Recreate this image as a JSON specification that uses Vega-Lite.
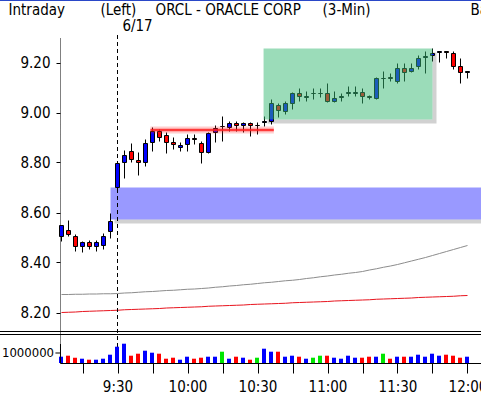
{
  "$schema": "https://vega.github.io/schema/vega-lite/v6.json",
  "width": 421,
  "height": 325,
  "autosize": "none",
  "padding": {"left": 60, "top": 38, "right": 0, "bottom": 36},
  "background": "white",
  "config": {
    "view": {"stroke": null},
    "font": "DejaVu Sans Condensed, Liberation Sans, sans-serif",
    "axis": {"labelFont": "DejaVu Sans Condensed, Liberation Sans, sans-serif", "labelFontSize": 15, "labelColor": "black", "tickColor": "black", "domainColor": "black", "grid": false},
    "text": {"font": "DejaVu Sans Condensed, Liberation Sans, sans-serif", "fontSize": 15, "color": "black"}
  },
  "datasets": {
    "bars": [
      {"m": -24, "o": 8.504, "h": 8.55, "l": 8.484, "c": 8.548, "v": 630000, "d": "up", "a": 8.272, "b": 8.200},
      {"m": -21, "o": 8.528, "h": 8.568, "l": 8.504, "c": 8.512, "v": 730000, "d": "down", "a": 8.272, "b": 8.201},
      {"m": -18, "o": 8.504, "h": 8.512, "l": 8.444, "c": 8.464, "v": 530000, "d": "down", "a": 8.273, "b": 8.202},
      {"m": -15, "o": 8.464, "h": 8.484, "l": 8.44, "c": 8.48, "v": 430000, "d": "up", "a": 8.273, "b": 8.204},
      {"m": -12, "o": 8.48, "h": 8.488, "l": 8.452, "c": 8.464, "v": 330000, "d": "down", "a": 8.274, "b": 8.205},
      {"m": -9, "o": 8.464, "h": 8.488, "l": 8.444, "c": 8.48, "v": 330000, "d": "up", "a": 8.274, "b": 8.206},
      {"m": -6, "o": 8.468, "h": 8.516, "l": 8.452, "c": 8.504, "v": 430000, "d": "up", "a": 8.275, "b": 8.207},
      {"m": -3, "o": 8.524, "h": 8.596, "l": 8.496, "c": 8.564, "v": 830000, "d": "up", "a": 8.275, "b": 8.208},
      {"m": 0, "o": 8.70, "h": 8.80, "l": 8.69, "c": 8.796, "v": 1630000, "d": "up", "a": 8.276, "b": 8.209},
      {"m": 3, "o": 8.80, "h": 8.848, "l": 8.736, "c": 8.828, "v": 1930000, "d": "up", "a": 8.278, "b": 8.211},
      {"m": 6, "o": 8.844, "h": 8.876, "l": 8.80, "c": 8.812, "v": 730000, "d": "down", "a": 8.279, "b": 8.212},
      {"m": 9, "o": 8.808, "h": 8.84, "l": 8.748, "c": 8.80, "v": 930000, "d": "down", "a": 8.281, "b": 8.213},
      {"m": 12, "o": 8.80, "h": 8.892, "l": 8.784, "c": 8.876, "v": 1230000, "d": "up", "a": 8.283, "b": 8.214},
      {"m": 15, "o": 8.88, "h": 8.94, "l": 8.844, "c": 8.924, "v": 1030000, "d": "up", "a": 8.284, "b": 8.215},
      {"m": 18, "o": 8.924, "h": 8.932, "l": 8.884, "c": 8.90, "v": 930000, "d": "down", "a": 8.286, "b": 8.216},
      {"m": 21, "o": 8.908, "h": 8.92, "l": 8.836, "c": 8.88, "v": 430000, "d": "down", "a": 8.288, "b": 8.218},
      {"m": 24, "o": 8.88, "h": 8.90, "l": 8.852, "c": 8.872, "v": 530000, "d": "down", "a": 8.289, "b": 8.219},
      {"m": 27, "o": 8.86, "h": 8.88, "l": 8.844, "c": 8.868, "v": 330000, "d": "up", "a": 8.291, "b": 8.220},
      {"m": 30, "o": 8.872, "h": 8.912, "l": 8.844, "c": 8.896, "v": 630000, "d": "up", "a": 8.293, "b": 8.221},
      {"m": 33, "o": 8.896, "h": 8.912, "l": 8.872, "c": 8.892, "v": 430000, "d": "down", "a": 8.294, "b": 8.222},
      {"m": 36, "o": 8.876, "h": 8.884, "l": 8.796, "c": 8.84, "v": 530000, "d": "down", "a": 8.296, "b": 8.223},
      {"m": 39, "o": 8.84, "h": 8.92, "l": 8.836, "c": 8.916, "v": 630000, "d": "up", "a": 8.298, "b": 8.225},
      {"m": 42, "o": 8.92, "h": 8.948, "l": 8.88, "c": 8.936, "v": 630000, "d": "up", "a": 8.301, "b": 8.226},
      {"m": 45, "o": 8.944, "h": 8.984, "l": 8.884, "c": 8.944, "v": 1130000, "d": "flat", "a": 8.303, "b": 8.227},
      {"m": 48, "o": 8.94, "h": 8.964, "l": 8.924, "c": 8.956, "v": 430000, "d": "up", "a": 8.306, "b": 8.228},
      {"m": 51, "o": 8.956, "h": 8.964, "l": 8.924, "c": 8.948, "v": 630000, "d": "down", "a": 8.308, "b": 8.229},
      {"m": 54, "o": 8.948, "h": 8.96, "l": 8.92, "c": 8.956, "v": 530000, "d": "up", "a": 8.311, "b": 8.230},
      {"m": 57, "o": 8.956, "h": 8.96, "l": 8.904, "c": 8.948, "v": 330000, "d": "down", "a": 8.313, "b": 8.232},
      {"m": 60, "o": 8.948, "h": 8.96, "l": 8.912, "c": 8.948, "v": 530000, "d": "flat", "a": 8.316, "b": 8.233},
      {"m": 63, "o": 8.96, "h": 8.984, "l": 8.944, "c": 8.964, "v": 1430000, "d": "up", "a": 8.319, "b": 8.234},
      {"m": 66, "o": 8.964, "h": 9.052, "l": 8.952, "c": 9.036, "v": 1130000, "d": "up", "a": 8.321, "b": 8.235},
      {"m": 69, "o": 9.028, "h": 9.036, "l": 8.98, "c": 9.008, "v": 1130000, "d": "down", "a": 8.324, "b": 8.236},
      {"m": 72, "o": 9.004, "h": 9.044, "l": 8.992, "c": 9.036, "v": 630000, "d": "up", "a": 8.327, "b": 8.237},
      {"m": 75, "o": 9.036, "h": 9.08, "l": 9.012, "c": 9.076, "v": 730000, "d": "up", "a": 8.329, "b": 8.239},
      {"m": 78, "o": 9.076, "h": 9.096, "l": 9.044, "c": 9.064, "v": 630000, "d": "down", "a": 8.332, "b": 8.240},
      {"m": 81, "o": 9.06, "h": 9.084, "l": 9.044, "c": 9.064, "v": 430000, "d": "up", "a": 8.336, "b": 8.241},
      {"m": 84, "o": 9.076, "h": 9.096, "l": 9.052, "c": 9.076, "v": 530000, "d": "flat", "a": 8.339, "b": 8.242},
      {"m": 87, "o": 9.076, "h": 9.096, "l": 9.06, "c": 9.076, "v": 730000, "d": "flat", "a": 8.343, "b": 8.243},
      {"m": 90, "o": 9.076, "h": 9.116, "l": 9.04, "c": 9.044, "v": 730000, "d": "down", "a": 8.346, "b": 8.244},
      {"m": 93, "o": 9.044, "h": 9.084, "l": 9.04, "c": 9.056, "v": 530000, "d": "up", "a": 8.350, "b": 8.246},
      {"m": 96, "o": 9.06, "h": 9.076, "l": 9.044, "c": 9.064, "v": 430000, "d": "up", "a": 8.353, "b": 8.247},
      {"m": 99, "o": 9.076, "h": 9.104, "l": 9.064, "c": 9.08, "v": 730000, "d": "up", "a": 8.357, "b": 8.248},
      {"m": 102, "o": 9.076, "h": 9.104, "l": 9.064, "c": 9.08, "v": 530000, "d": "up", "a": 8.360, "b": 8.249},
      {"m": 105, "o": 9.08, "h": 9.096, "l": 9.036, "c": 9.064, "v": 530000, "d": "down", "a": 8.364, "b": 8.250},
      {"m": 108, "o": 9.064, "h": 9.068, "l": 9.052, "c": 9.06, "v": 630000, "d": "down", "a": 8.370, "b": 8.251},
      {"m": 111, "o": 9.056, "h": 9.14, "l": 9.052, "c": 9.136, "v": 630000, "d": "up", "a": 8.375, "b": 8.253},
      {"m": 114, "o": 9.136, "h": 9.164, "l": 9.096, "c": 9.136, "v": 930000, "d": "flat", "a": 8.381, "b": 8.254},
      {"m": 117, "o": 9.14, "h": 9.156, "l": 9.124, "c": 9.136, "v": 430000, "d": "down", "a": 8.386, "b": 8.255},
      {"m": 120, "o": 9.124, "h": 9.196, "l": 9.116, "c": 9.176, "v": 630000, "d": "up", "a": 8.392, "b": 8.256},
      {"m": 123, "o": 9.176, "h": 9.196, "l": 9.124, "c": 9.16, "v": 630000, "d": "down", "a": 8.399, "b": 8.257},
      {"m": 126, "o": 9.164, "h": 9.196, "l": 9.16, "c": 9.176, "v": 630000, "d": "up", "a": 8.406, "b": 8.258},
      {"m": 129, "o": 9.184, "h": 9.228, "l": 9.172, "c": 9.216, "v": 830000, "d": "up", "a": 8.413, "b": 8.260},
      {"m": 132, "o": 9.22, "h": 9.244, "l": 9.156, "c": 9.224, "v": 630000, "d": "up", "a": 8.420, "b": 8.261},
      {"m": 135, "o": 9.228, "h": 9.256, "l": 9.204, "c": 9.236, "v": 930000, "d": "up", "a": 8.428, "b": 8.262},
      {"m": 138, "o": 9.24, "h": 9.244, "l": 9.2, "c": 9.244, "v": 730000, "d": "up", "a": 8.436, "b": 8.263},
      {"m": 141, "o": 9.244, "h": 9.244, "l": 9.216, "c": 9.24, "v": 830000, "d": "down", "a": 8.444, "b": 8.264},
      {"m": 144, "o": 9.236, "h": 9.244, "l": 9.172, "c": 9.184, "v": 730000, "d": "down", "a": 8.452, "b": 8.265},
      {"m": 147, "o": 9.184, "h": 9.216, "l": 9.116, "c": 9.16, "v": 530000, "d": "down", "a": 8.460, "b": 8.267},
      {"m": 150, "o": 9.16, "h": 9.164, "l": 9.136, "c": 9.164, "v": 630000, "d": "up", "a": 8.468, "b": 8.268}
    ],
    "header": [
      {"t": "Intraday", "m": -46.7, "p": 9.41},
      {"t": "(Left)", "m": -7.3, "p": 9.41},
      {"t": "ORCL - ORACLE CORP", "m": 16.3, "p": 9.41},
      {"t": "(3-Min)", "m": 87.9, "p": 9.41},
      {"t": "Bars", "m": 151.3, "p": 9.41},
      {"t": "6/17", "m": 2.1, "p": 9.346}
    ],
    "boxes": [
      {"box": "band", "m": -3, "m2": 170, "p": 8.70, "p2": 8.572},
      {"box": "zone", "m": 62.6, "m2": 135, "p": 9.256, "p2": 8.972}
    ]
  },
  "encoding": {
    "x": {
      "field": "m", "type": "quantitative",
      "scale": {"domain": [-24.644, 155.786], "nice": false, "zero": false, "padding": 0},
      "axis": {
        "values": [-15, 0, 15, 30, 45, 60, 75, 90, 105, 120, 135, 150],
        "labelExpr": "datum.value % 30 == 0 ? floor((570 + datum.value) / 60) + ':' + ((570 + datum.value) % 60 == 0 ? '00' : '30') : ''",
        "tickSize": 10, "labelPadding": 6, "labelFlush": false, "labelOverlap": false, "title": null
      }
    }
  },
  "layer": [
    {
      "data": {"values": [{"m": -60, "m2": 250, "p": 9.45}]},
      "mark": {"type": "rule", "color": "#2a48c8", "strokeWidth": 2},
      "encoding": {
        "x2": {"field": "m2"},
        "y": {"field": "p", "type": "quantitative", "scale": {"domain": [7.998, 9.298], "nice": false, "zero": false}, "axis": null}
      }
    },
    {
      "data": {"values": [{"m": -60, "m2": 250, "p": 8.124}, {"m": -60, "m2": 250, "p": 8.112}]},
      "mark": {"type": "rule", "color": "black", "strokeWidth": 1},
      "encoding": {
        "x2": {"field": "m2"},
        "y": {"field": "p", "type": "quantitative", "scale": {"domain": [7.998, 9.298], "nice": false, "zero": false}, "axis": null}
      }
    },
    {
      "data": {"name": "bars"},
      "mark": {"type": "line", "color": "#8c8c8c", "strokeWidth": 1},
      "encoding": {
        "y": {"field": "a", "type": "quantitative", "scale": {"domain": [7.998, 9.298], "nice": false, "zero": false}, "axis": null}
      }
    },
    {
      "data": {"name": "bars"},
      "mark": {"type": "line", "color": "#e8141e", "strokeWidth": 1},
      "encoding": {
        "y": {"field": "b", "type": "quantitative", "scale": {"domain": [7.998, 9.298], "nice": false, "zero": false}, "axis": null}
      }
    },
    {
      "data": {"name": "boxes"},
      "mark": {"type": "rect", "color": "#666666", "opacity": 0.3, "xOffset": 4, "x2Offset": 4, "yOffset": 4, "y2Offset": 4},
      "encoding": {
        "x2": {"field": "m2"},
        "y": {"field": "p", "type": "quantitative", "scale": {"domain": [7.998, 9.298], "nice": false, "zero": false}, "axis": null},
        "y2": {"field": "p2"}
      }
    },
    {
      "data": {"name": "boxes"},
      "mark": {"type": "rect", "color": "white", "opacity": 1},
      "encoding": {
        "x2": {"field": "m2"},
        "y": {"field": "p", "type": "quantitative", "scale": {"domain": [7.998, 9.298], "nice": false, "zero": false}, "axis": null},
        "y2": {"field": "p2"}
      }
    },
    {
      "data": {"name": "boxes"},
      "transform": [{"filter": "datum.box == 'band'"}],
      "mark": {"type": "rect", "color": "#0000ff", "opacity": 0.4},
      "encoding": {
        "x2": {"field": "m2"},
        "y": {"field": "p", "type": "quantitative", "scale": {"domain": [7.998, 9.298], "nice": false, "zero": false}, "axis": null},
        "y2": {"field": "p2"}
      }
    },
    {
      "data": {"values": [{"m": 0, "p": 9.31, "p2": 7.998}]},
      "mark": {"type": "rule", "color": "black", "strokeWidth": 1, "strokeDash": [4, 3]},
      "encoding": {
        "y": {"field": "p", "type": "quantitative", "scale": {"domain": [7.998, 9.298], "nice": false, "zero": false}, "axis": null},
        "y2": {"field": "p2"}
      }
    },
    {
      "data": {"name": "bars"},
      "mark": {"type": "rule", "color": "black", "strokeWidth": 1},
      "encoding": {
        "y": {
          "field": "l", "type": "quantitative",
          "scale": {"domain": [7.998, 9.298], "nice": false, "zero": false},
          "axis": {"values": [8.2, 8.4, 8.6, 8.8, 9.0, 9.2], "format": ".2f", "tickSize": 4, "labelPadding": 6, "domainDash": [1, 1], "title": null}
        },
        "y2": {"field": "h"}
      }
    },
    {
      "data": {"name": "bars"},
      "mark": {"type": "bar", "size": 4, "stroke": "black", "strokeWidth": 1},
      "encoding": {
        "y": {"field": "o", "type": "quantitative", "scale": {"domain": [7.998, 9.298], "nice": false, "zero": false}, "axis": null},
        "y2": {"field": "c"},
        "fill": {
          "condition": [
            {"test": "datum.d == 'up'", "value": "#0000ff"},
            {"test": "datum.d == 'down'", "value": "#ff0000"}
          ],
          "value": "#000000"
        }
      }
    },
    {
      "data": {"values": [{"m": 14.1, "m2": 67, "p": 8.93}]},
      "mark": {"type": "rule", "color": "#ff2020", "strokeWidth": 7, "opacity": 0.22},
      "encoding": {
        "x2": {"field": "m2"},
        "y": {"field": "p", "type": "quantitative", "scale": {"domain": [7.998, 9.298], "nice": false, "zero": false}, "axis": null}
      }
    },
    {
      "data": {"values": [{"m": 14.1, "m2": 67, "p": 8.93}]},
      "mark": {"type": "rule", "color": "#ff1e1e", "strokeWidth": 2.5, "opacity": 0.85},
      "encoding": {
        "x2": {"field": "m2"},
        "y": {"field": "p", "type": "quantitative", "scale": {"domain": [7.998, 9.298], "nice": false, "zero": false}, "axis": null}
      }
    },
    {
      "data": {"name": "boxes"},
      "transform": [{"filter": "datum.box == 'zone'"}],
      "mark": {"type": "rect", "color": "#37b973", "opacity": 0.5},
      "encoding": {
        "x2": {"field": "m2"},
        "y": {"field": "p", "type": "quantitative", "scale": {"domain": [7.998, 9.298], "nice": false, "zero": false}, "axis": null},
        "y2": {"field": "p2"}
      }
    },
    {
      "data": {"name": "header"},
      "mark": {"type": "text", "align": "left", "baseline": "middle"},
      "encoding": {
        "y": {"field": "p", "type": "quantitative", "scale": {"domain": [7.998, 9.298], "nice": false, "zero": false}, "axis": null},
        "text": {"field": "t"}
      }
    },
    {
      "data": {"name": "bars"},
      "mark": {"type": "bar", "size": 4, "xOffset": -0.5},
      "encoding": {
        "y": {"field": "v", "type": "quantitative", "scale": {"domain": [0, 32500000], "nice": false, "zero": true}, "axis": null},
        "color": {
          "condition": [
            {"test": "datum.d == 'up'", "value": "#0000ff"},
            {"test": "datum.d == 'down'", "value": "#ff0000"}
          ],
          "value": "#00e600"
        }
      }
    },
    {
      "data": {"values": [{"m": -24.43, "v": 0, "v2": 1900000}]},
      "mark": {"type": "rule", "color": "black", "strokeWidth": 1},
      "encoding": {
        "y": {"field": "v", "type": "quantitative", "scale": {"domain": [0, 32500000], "nice": false, "zero": true}, "axis": null},
        "y2": {"field": "v2"}
      }
    },
    {
      "data": {"values": [{"m": -26.6, "m2": -24.43, "v": 1000000}]},
      "mark": {"type": "rule", "color": "black", "strokeWidth": 1},
      "encoding": {
        "x2": {"field": "m2"},
        "y": {"field": "v", "type": "quantitative", "scale": {"domain": [0, 32500000], "nice": false, "zero": true}, "axis": null}
      }
    },
    {
      "data": {"values": [{"m": -27.2, "v": 1000000, "t": "1000000"}]},
      "mark": {"type": "text", "align": "right", "baseline": "middle", "fontSize": 13},
      "encoding": {
        "y": {"field": "v", "type": "quantitative", "scale": {"domain": [0, 32500000], "nice": false, "zero": true}, "axis": null},
        "text": {"field": "t"}
      }
    }
  ],
  "resolve": {"scale": {"y": "independent"}, "axis": {"y": "independent"}}
}
